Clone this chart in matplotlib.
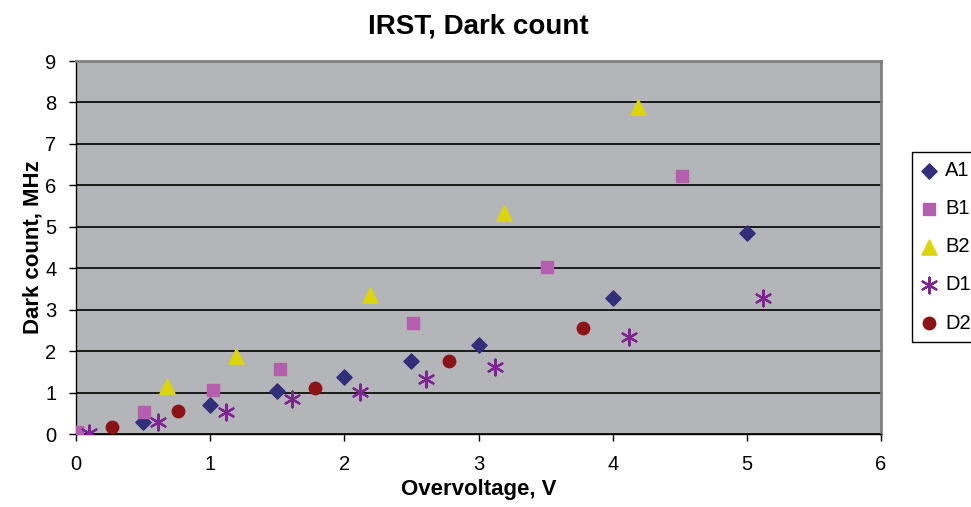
# IRST dark count vs overvoltage

import matplotlib.pyplot as plt

plt.rcParams['font.family'] = ['Liberation Sans', 'DejaVu Sans']

a1_x = [0.5, 1.0, 1.5, 2.0, 2.5, 3.0, 4.0, 5.0]
a1_y = [0.30, 0.70, 1.03, 1.38, 1.76, 2.14, 3.29, 4.84]

b1_x = [0.01, 0.51, 1.02, 1.52, 2.51, 3.51, 4.52]
b1_y = [0.04, 0.53, 1.05, 1.58, 2.69, 4.04, 6.22]

b2_x = [0.68, 1.19, 2.19, 3.19, 4.19]
b2_y = [1.17, 1.89, 3.36, 5.33, 7.89]

d1_x = [0.10, 0.61, 1.12, 1.61, 2.12, 2.61, 3.12, 4.12, 5.12]
d1_y = [0.02, 0.29, 0.53, 0.84, 1.02, 1.32, 1.61, 2.34, 3.29]

d2_x = [0.27, 0.76, 1.78, 2.78, 3.78]
d2_y = [0.18, 0.56, 1.10, 1.76, 2.56]

fig = plt.figure(figsize=(9.71, 5.07), dpi=100)
ax = fig.add_axes([76/971, 1 - 434/507, (881 - 76)/971, (434 - 61)/507])
ax.set_facecolor('#b4b5b9')

ax.scatter(a1_x, a1_y, marker='D', s=60, color='#312e7a', label='A1', zorder=3)
ax.scatter(b1_x, b1_y, marker='s', s=75, color='#b35fae', label='B1', zorder=3)
ax.scatter(b2_x, b2_y, marker='^', s=120, color='#dcd50c', label='B2', zorder=3)
ax.scatter(d1_x, d1_y, marker=(6, 2, 0), s=130, linewidths=1.6, color='#7e2591', label='D1', zorder=3)
ax.scatter(d2_x, d2_y, marker='o', s=80, color='#8b1417', label='D2', zorder=3)

ax.set_xlim(0, 6)
ax.set_ylim(0, 9)
ax.set_xticks(range(0, 7))
ax.set_yticks(range(0, 10))
ax.yaxis.grid(True, color='black', linewidth=1.2)
ax.set_axisbelow(True)
for side in ['top', 'right']:
    ax.spines[side].set_color('#808080')
    ax.spines[side].set_linewidth(2)
for side in ['left', 'bottom']:
    ax.spines[side].set_color('black')
    ax.spines[side].set_linewidth(1)
ax.tick_params(direction='out', length=5, width=1, labelsize=14.5)
ax.tick_params(axis='x', pad=10)
ax.tick_params(axis='y', pad=9)

ax.set_title('IRST, Dark count', fontsize=20, fontweight='bold', pad=20)
ax.set_xlabel('Overvoltage, V', fontsize=16, fontweight='bold', labelpad=4)
ax.set_ylabel('Dark count, MHz', fontsize=16, fontweight='bold', labelpad=1)

leg = fig.legend(loc='upper left', bbox_to_anchor=(912/971, 1 - 152/507), fontsize=14.5,
                 frameon=True, fancybox=False, edgecolor='black', framealpha=1,
                 handletextpad=0.4, labelspacing=0.95, borderpad=0.45,
                 handlelength=0.8, borderaxespad=0)
leg.get_frame().set_linewidth(1)

fig.savefig('out.png', dpi=100)
